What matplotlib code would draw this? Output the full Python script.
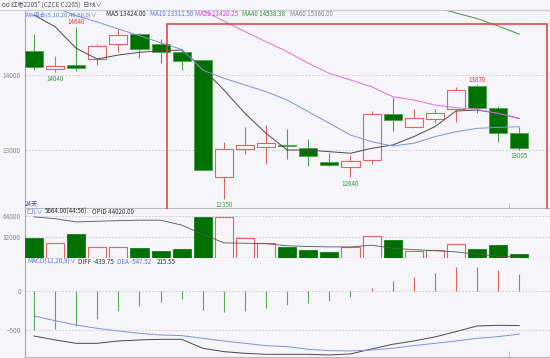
import matplotlib
matplotlib.use('Agg')
import matplotlib.pyplot as plt
from matplotlib.patches import Rectangle
import numpy as np

plt.rcParams['font.family'] = ['Noto Sans CJK SC', 'DejaVu Sans']

# daily OHLC, 24 days
opens  = [14324, 14076, 14133, 14209, 14409, 14551, 14409, 14307, 14200, 12636, 13009, 13036,
          13067, 13027, 12836, 12778, 12862, 13480, 13311, 13418, 13542, 13853, 13564, 13231]
highs  = [14543, 14253, 14640, 14413, 14609, 14560, 14476, 14342, 14200, 13111, 13311, 13329,
          13284, 13147, 12956, 12938, 13520, 13702, 13542, 13542, 13836, 13870, 13587, 13302]
lows   = [14067, 14040, 14053, 14133, 14311, 14222, 14156, 14067, 12733, 12350, 12942, 12813,
          12876, 12791, 12791, 12640, 12809, 13253, 13311, 13364, 13378, 13489, 13102, 13005]
closes = [14111, 14116, 14089, 14382, 14533, 14347, 14307, 14182, 12733, 13009, 13062, 13089,
          13053, 12920, 12804, 12849, 13476, 13400, 13422, 13489, 13800, 13556, 13222, 13031]

ma5  = [14800, 14644, 14356, 14213, 14267, 14302, 14324, 14333, 14089, 13800, 13489, 13222,
        13000, 13000, 12978, 12956, 13022, 13067, 13178, 13311, 13520, 13533, 13489, 13420]
ma10 = [15000, 14900, 14790, 14707, 14613, 14524, 14431, 14342, 14067, 13956, 13867, 13778,
        13667, 13511, 13356, 13200, 13111, 13053, 13090, 13178, 13244, 13289, 13302, 13311]
ma20 = [np.nan] * 7 + [14950, 14860, 14720, 14578, 14444, 14311, 14156, 14022, 13933, 13844,
        13711, 13667, 13600, 13564, 13542, 13489, 13420]
ma40 = [np.nan] * 18 + [15000, 14907, 14827, 14753, 14653, 14545]

volume = [30300, 22100, 36000, 15500, 15500, 14400, 9700, 12800, 62800, 62300, 30900, 22600,
          15900, 11300, 8200, 16400, 32500, 27300, 9300, 11300, 21600, 12400, 19000, 5664]
opi_line = [62800, 60000, 55000, 56100, 56900, 57700, 57700, 50000, 36000, 22600, 22100, 21300,
            18200, 17000, 16400, 16400, 19000, 14400, 12100, 10500, 8700, 5100, 2000, 500]

macd_hist = [-500, -483, -445, -356, -250, -187, -136, -98, -238, -271, -258, -220,
             -178, -148, -123, -80, 42, 127, 178, 225, 301, 305, 267, 216]
diff = [-573, -623, -666, -666, -636, -623, -615, -615, -729, -772, -793, -806,
        -806, -806, -814, -801, -738, -678, -636, -585, -517, -445, -437, -440]
dea  = [-318, -378, -433, -475, -509, -538, -560, -568, -602, -636, -666, -696,
        -708, -742, -759, -763, -751, -729, -696, -666, -636, -602, -581, -548]

# labelled highs / lows: (index, price, colour key, above?)
marks = [(2, 14640, 'r', True), (1, 14040, 'g', False), (9, 12350, 'g', False),
         (15, 12640, 'g', False), (21, 13870, 'r', True), (23, 13005, 'g', False)]

W, H = 550, 358
BG = '#f5f5fa'
RED = '#e06464'
GREEN = '#007000'
GWICK = '#4f9f4f'
GRID = '#c6c6cc'
TXT = '#8a8a8a'

fig = plt.figure(figsize=(W / 100, H / 100), dpi=100, facecolor=BG)


def rect(x0, y0, x1, y1):
    return [x0 / W, 1 - y1 / H, (x1 - x0) / W, (y1 - y0) / H]


def ftext(x, y, s, color, size=4.5, **kw):
    fig.text(x / W, 1 - y / H, s, color=color, fontsize=size, va='center', **kw)


ax = fig.add_axes(rect(25, 10, 550, 208.5))
axv = fig.add_axes(rect(25, 208.5, 550, 257.5))
axm = fig.add_axes(rect(25, 257.5, 550, 357))

x = np.arange(len(closes))
xlim = (-0.4265, 24.455)

for a in (ax, axv, axm):
    a.set_facecolor(BG)
    a.set_xlim(*xlim)
    a.set_xticks([])
    for s in ('top', 'right'):
        a.spines[s].set_visible(False)
    a.spines['left'].set_color('#a8a8b0')
    a.spines['bottom'].set_color('#b8b8c0')
    a.spines['left'].set_linewidth(0.8)
    a.spines['bottom'].set_linewidth(0.8)
    a.tick_params(axis='y', length=0, labelsize=4.6, labelcolor=TXT, pad=3)
    a.yaxis.grid(True, linestyle=(0, (2, 2)), color=GRID, linewidth=0.6)
    a.set_axisbelow(True)

# ---- main candles
ax.set_ylim(12220, 14867)
ax.set_yticks([13000, 14000])
ax.spines['top'].set_visible(True)
ax.spines['top'].set_color('#c0c0c8')
for i in x:
    up = closes[i] >= opens[i]
    lo, hi = min(opens[i], closes[i]), max(opens[i], closes[i])
    h = max(hi - lo, 14)
    if up:
        ax.vlines(i, lows[i], highs[i], color=RED, linewidth=0.8, zorder=2)
        ax.bar(i, h, bottom=lo, width=0.86, facecolor=BG, edgecolor=RED, linewidth=0.8, zorder=3)
    else:
        ax.vlines(i, lows[i], highs[i], color=GWICK, linewidth=0.8, zorder=2)
        ax.bar(i, h, bottom=lo, width=0.86, facecolor=GREEN, edgecolor=GWICK, linewidth=0.6, zorder=3)

ax.plot(x, ma5, color='#4a4a4a', linewidth=0.7, zorder=4)
ax.plot(x, ma10, color='#7b93dc', linewidth=0.7, zorder=4)
ax.plot(x, ma20, color='#e46ee4', linewidth=0.7, zorder=4)
ax.plot(x, ma40, color='#3f9a3f', linewidth=0.7, zorder=4)

for i, p, c, above in marks:
    ax.annotate(str(p), (i, p), xytext=(0, 0.6 if above else -1.8), textcoords='offset points',
                ha='center', va='bottom' if above else 'top', fontsize=4.5,
                color='#d84040' if c == 'r' else '#3a9a3a', zorder=5)

ax.add_patch(Rectangle((6.28, 12187), 18.01, 14676 - 12187, fill=False, edgecolor='#e03c3c',
                       linewidth=1.1, clip_on=False, zorder=6))
ax.vlines(22.5, 12220, 12290, color='#b0b0b8', linewidth=0.6)

# ---- volume
axv.set_ylim(0, 75750)
axv.set_yticks([32000, 64000])
for i in x:
    if closes[i] >= opens[i]:
        axv.bar(i, volume[i], width=0.86, facecolor=BG, edgecolor=RED, linewidth=0.8, zorder=3)
    else:
        axv.bar(i, volume[i], width=0.86, facecolor=GREEN, edgecolor=GREEN, linewidth=0.5, zorder=3)
axv.plot(x, opi_line, color='#555555', linewidth=0.6, zorder=4)

# ---- MACD
axm.set_ylim(-840, 426)
axm.set_yticks([0, -500])
hist_colors = [RED if v > 0 else '#5aa85a' for v in macd_hist]
axm.vlines(x, 0, macd_hist, colors=hist_colors, linewidth=0.8, zorder=3)
axm.plot(x, diff, color='#4a4a4a', linewidth=0.7, zorder=4)
axm.plot(x, dea, color='#7b93dc', linewidth=0.7, zorder=4)
axm.vlines(22.5, -840, -770, color='#b0b0b8', linewidth=0.6)

# ---- header texts
fig.add_artist(plt.Line2D([0, 1], [1 - 10 / H, 1 - 10 / H], color='#c8c8d0', linewidth=0.6))
ftext(2, 5, 'oo 红枣2205* (CZCE CJ205)  日线∨', '#555555')
ftext(25.5, 14.5, 'MA组合(5,10,20,40,60,0)∨', '#5a78d0', size=4.3)
ftext(106, 14.5, 'MA5 13424.00', '#333333')
ftext(150, 14.5, 'MA10 13311.50', '#5a78d0')
ftext(195, 14.5, 'MA20 13420.25', '#e040e0')
ftext(242, 14.5, 'MA40 14538.38', '#2f8f2f')
ftext(290, 14.5, 'MA60 15360.00', '#888888')
ftext(24.5, 203.5, '24天', '#3a4aa0')

ftext(27, 211.8, 'CJL∨', '#5a78d0')
ftext(45, 211.8, '5664.00(44:56)', '#333333')
ftext(92, 211.8, 'OPID 44020.00', '#333333')

ftext(27, 261.8, 'MACD(12,26,9)∨', '#5a78d0')
ftext(78, 261.8, 'DIFF -439.75', '#333333')
ftext(117, 261.8, 'DEA -547.52', '#5a78d0')
ftext(157, 261.8, '215.55', '#333333')

fig.savefig('out.png', dpi=100, facecolor=BG)
